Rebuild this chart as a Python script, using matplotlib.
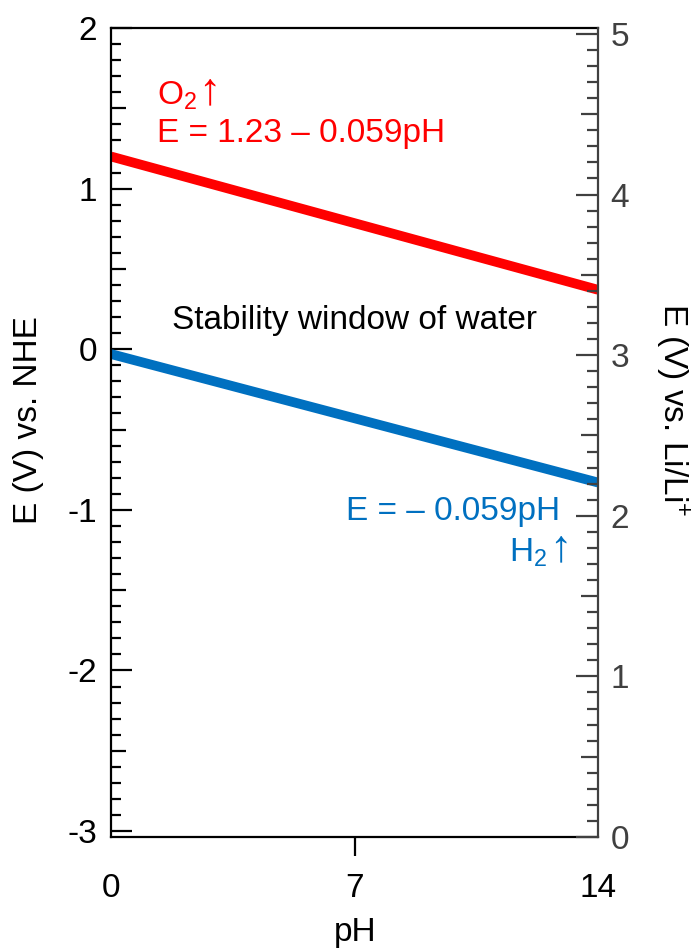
import matplotlib
matplotlib.use("Agg")
import matplotlib.pyplot as plt
import numpy as np
from matplotlib.ticker import FixedLocator

plt.rcParams['font.family'] = ['Liberation Sans', 'DejaVu Sans']
plt.rcParams['mathtext.fontset'] = 'custom'
plt.rcParams['mathtext.rm'] = 'Liberation Sans'
plt.rcParams['mathtext.it'] = 'Liberation Sans:italic'
plt.rcParams['axes.unicode_minus'] = False

# data
ph = [0, 14]
e_o2 = [1.20, 0.37]     # O2 evolution line, V vs NHE
e_h2 = [-0.03, -0.83]   # H2 evolution line, V vs NHE
li_offset = 3.037       # V vs Li/Li+ = V vs NHE + ~3.04
x_ticks = [0, 7, 14]
left_ticks = [-3, -2, -1, 0, 1, 2]
right_ticks = [0, 1, 2, 3, 4, 5]

red = '#ff0000'
blue = '#0070c0'
grey = '#404040'
fs = 24

fig = plt.figure(figsize=(6.94, 9.52), dpi=100)
ax = fig.add_axes([111/694, 1-837/952, 487/694, 809/952])

ax.plot(ph, e_o2, color=red, lw=7, solid_capstyle='butt')
ax.plot(ph, e_h2, color=blue, lw=7, solid_capstyle='butt')

ax.set_xlim(0, 14)
ax.set_ylim(-3.037, 2.0)

def arrow_after(txt, color):
    # tall thin up arrow placed right after a text artist
    ax.annotate('↑', xy=(1, 0), xycoords=txt, xytext=(1, 0), textcoords='offset points',
                ha='left', va='bottom', color=color, fontsize=fs * 1.35)

# texts
t1 = ax.text(1.32, 1.52, r'O$_2$', color=red, fontsize=fs, va='baseline')
arrow_after(t1, red)
ax.text(1.32, 1.29, 'E = 1.23 – 0.059pH', color=red, fontsize=fs, va='baseline')
ax.text(1.75, 0.126, 'Stability window of water', color='black', fontsize=fs, va='baseline')
ax.text(12.91, -1.063, 'E = – 0.059pH', color=blue, fontsize=fs, va='baseline', ha='right')
t2 = ax.text(12.55, -1.325, r'H$_2$', color=blue, fontsize=fs, va='baseline', ha='right')
arrow_after(t2, blue)

# spines
for s in ['left', 'top', 'bottom']:
    ax.spines[s].set_linewidth(1.6)
    ax.spines[s].set_color('black')
ax.spines['right'].set_visible(False)

# x axis
ax.xaxis.set_major_locator(FixedLocator(x_ticks))
ax.tick_params(axis='x', direction='out', length=14, width=1.6, pad=12, labelsize=fs)
xt = ax.xaxis.get_major_ticks()
xt[0].tick1line.set_visible(False)
xt[-1].tick1line.set_visible(False)

# left y axis
left_minor = [round(v, 1) for v in np.arange(-3.0, 2.01, 0.1) if abs(v - round(v)) > 1e-6]
ax.yaxis.set_major_locator(FixedLocator(left_ticks))
ax.yaxis.set_minor_locator(FixedLocator(left_minor))
ax.tick_params(axis='y', which='major', direction='in', length=15, width=1.6, pad=10, labelsize=fs)
ax.tick_params(axis='y', which='minor', direction='in', length=7.2, width=1.6)
for t, v in zip(ax.yaxis.get_minor_ticks(len(left_minor)), left_minor):
    if abs(abs(v % 1) - 0.5) < 1e-6:
        t.tick1line.set_markersize(10.8)

# right y axis
ax2 = ax.twinx()
ax2.set_ylim(0, 2.0 + li_offset)
for s in ['left', 'top', 'bottom']:
    ax2.spines[s].set_visible(False)
ax2.spines['right'].set_color(grey)
ax2.spines['right'].set_linewidth(1.6)
right_minor = [round(v, 1) for v in np.arange(0.0, 5.01, 0.1) if abs(v - round(v)) > 1e-6]
ax2.yaxis.set_major_locator(FixedLocator(right_ticks))
ax2.yaxis.set_minor_locator(FixedLocator(right_minor))
ax2.tick_params(axis='y', which='major', direction='in', length=16, width=1.6, pad=9,
                labelsize=fs, color=grey, labelcolor=grey)
ax2.tick_params(axis='y', which='minor', direction='in', length=7.6, width=1.6, color=grey)
for t, v in zip(ax2.yaxis.get_minor_ticks(len(right_minor)), right_minor):
    if abs(abs(v % 1) - 0.5) < 1e-6:
        t.tick2line.set_markersize(12)

# axis labels
fig.text(29/694, 1-420/952, 'E (V) vs. NHE', rotation=90, ha='center', va='center', fontsize=fs)
fig.text(672/694, 1-410/952, r'E (V) vs. Li/Li$^{+}$', rotation=270, ha='center', va='center', fontsize=fs)
fig.text(355/694, 1-933/952, 'pH', ha='center', va='center', fontsize=fs)

fig.savefig('out.png', dpi=100)
